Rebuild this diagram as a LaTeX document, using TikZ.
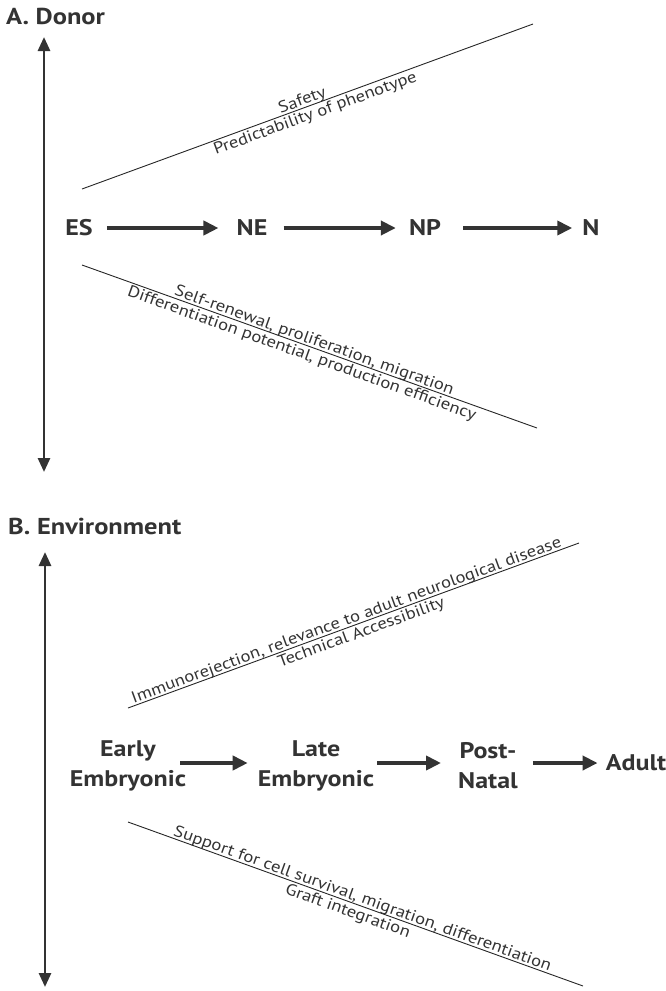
\documentclass[tikz,border=0pt]{standalone}
\usepackage{fontspec}
\setmainfont{PT Sans}[FakeStretch=1.15]
\usetikzlibrary{arrows.meta}
\definecolor{ink}{HTML}{333333}
\begin{document}
\begin{tikzpicture}[x=1pt,y=-1pt,
  flow/.style={line width=4pt, draw=ink, -{Triangle[length=15pt,width=14pt]}},
  axis/.style={line width=2.8pt, draw=ink, {Triangle[length=14pt,width=12pt]}-{Triangle[length=14pt,width=12pt]}},
  slant/.style={line width=0.9pt, draw=black!85},
  stage/.style={font=\fontsize{22.6}{30}\selectfont\bfseries, text=ink, align=center, inner sep=0pt},
  note/.style={font=\fontsize{16.2}{18}\selectfont, text=ink, sloped},
  over/.style={note, anchor=south, text depth=0pt, inner xsep=1pt, inner ysep=2.2pt},
  under/.style={note, anchor=north, inner xsep=1pt, inner ysep=2pt},
  paneltitle/.style={font=\fontsize{23}{26}\selectfont\bfseries, text=ink, anchor=base west, inner sep=0pt}]
\useasboundingbox (0,0) rectangle (666,991);

% ---------- Panel A ----------
\node[paneltitle] (tA) at (6,24) {A. Donor};
\coordinate (aTop) at (44,37);
\coordinate (aBot) at (44,472);
\draw[axis] (aTop) -- (aBot);

\coordinate (au1) at (82,189);
\coordinate (au2) at (533,24);
\draw[slant] (au1) -- (au2)
  node[over, pos=0.494] (safe) {Safety}
  node[under, pos=0.51] (pred) {Predictability of phenotype};

\node[stage] (ES) at (79,228) {ES};
\node[stage] (NE) at (252,228) {NE};
\node[stage] (NP) at (425,228) {NP};
\node[stage] (N)  at (591,228) {N};
\draw[flow, shorten <=14pt, shorten >=18pt] (ES) -- (NE);
\draw[flow, shorten <=16pt, shorten >=13pt] (NE) -- (NP);
\draw[flow, shorten <=22pt, shorten >=10pt] (NP) -- (N);

\coordinate (al1) at (82,265);
\coordinate (al2) at (537,428);
\draw[slant] (al1) -- (al2)
  node[over, pos=0.505] (self) {Self-renewal, proliferation, migration}
  node[under, pos=0.49] (diff) {Differentiation potential, production efficiency};

% ---------- Panel B ----------
\node[paneltitle] (tB) at (8,534) {B. Environment};
\coordinate (bTop) at (45,552);
\coordinate (bBot) at (45,987);
\draw[axis] (bTop) -- (bBot);

\coordinate (bu1) at (128,708);
\coordinate (bu2) at (579,543);
\draw[slant] (bu1) -- (bu2)
  node[over, pos=0.49] (immu) {Immunorejection, relevance to adult neurological disease}
  node[under, pos=0.51] (tech) {Technical Accessibility};

\node[stage] (EE) at (128,766) {Early\\Embryonic};
\node[stage] (LE) at (316,766) {Late\\Embryonic};
\node[stage] (PN) at (488,766) {Post-\\Natal};
\node[stage] (AD) at (636,763) {Adult};
\draw[flow, shorten <=-6pt, shorten >=10pt] (EE.east |- AD) -- (LE.west |- AD);
\draw[flow, shorten <=3pt, shorten >=17pt] (LE.east |- AD) -- (PN.west |- AD);
\draw[flow, shorten <=15pt, shorten >=8pt] (PN.east |- AD) -- (AD.west);

\coordinate (bl1) at (128,822);
\coordinate (bl2) at (583,986);
\draw[slant] (bl1) -- (bl2)
  node[over, pos=0.51] (supp) {Support for cell survival, migration, differentiation}
  node[under, pos=0.49] (graft) {Graft integration};
\end{tikzpicture}
\end{document}
